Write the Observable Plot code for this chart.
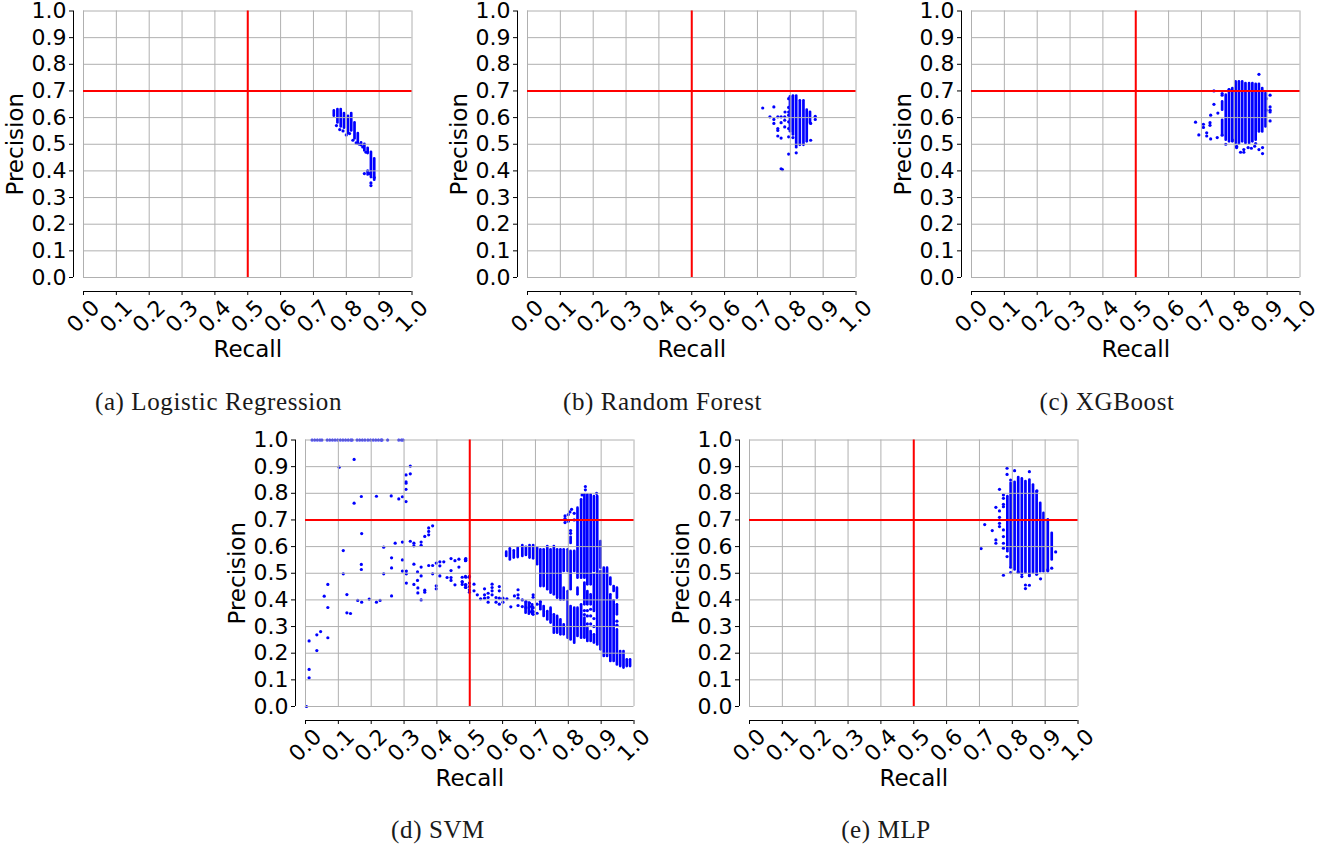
<!DOCTYPE html>
<html>
<head>
<meta charset="utf-8">
<script src="https://cdn.jsdelivr.net/npm/d3@7"></script>
<script src="https://cdn.jsdelivr.net/npm/@observablehq/plot@0.6"></script>
<style>
html,body{margin:0;padding:0;background:#fff;overflow:hidden}
#page{position:relative;width:1335px;height:847px;overflow:hidden}
.cap{position:absolute;font-family:"Liberation Serif",serif;font-size:25px;letter-spacing:.6px;color:#1a1a1a;white-space:nowrap;transform:translate(-50%,-50%)}
</style>
</head>
<body>
<div id="page"></div>
<script>
const tickValues = [0,0.1,0.2,0.3,0.4,0.5,0.6,0.7,0.8,0.9,1];
const recallThreshold = [0.5];
const precisionThreshold = [0.7];

// Dense masses are stored as the column extents: [recall, lowest precision, highest precision].
const lrRanges = [[.762,.605,.625],[.773,.58,.63],[.783,.565,.63],[.793,.56,.615],[.805,.54,.605],[.815,.55,.615],[.825,.52,.58],[.835,.50,.54],[.845,.495,.505],[.855,.475,.50],[.865,.385,.395],[.865,.465,.485],[.875,.375,.47],[.885,.365,.445]];
const lrPoints = [[.875,.345],[.875,.355],[.885,.375],[.855,.39],[.865,.4],[.77,.57],[.78,.555],[.79,.55],[.80,.535],[.81,.54],[.82,.515],[.83,.505],[.84,.50],[.85,.49],[.86,.47],[.87,.39]];

const rfRanges = [[.799,.547,.678],[.808,.535,.681],[.818,.487,.681],[.829,.496,.663],[.84,.496,.663],[.85,.509,.628],[.86,.578,.62]];
const rfPoints = [[.716,.636],[.75,.64],[.738,.603],[.75,.593],[.75,.578],[.762,.603],[.772,.603],[.783,.603],[.772,.581],[.783,.59],[.783,.565],[.795,.671],[.795,.638],[.795,.621],[.795,.609],[.795,.584],[.795,.559],[.784,.621],[.762,.559],[.762,.552],[.762,.531],[.772,.523],[.795,.528],[.808,.525],[.795,.463],[.818,.468],[.772,.408],[.776,.405],[.862,.515],[.876,.605],[.876,.593],[.862,.578]];

const xgbRanges = [[.763,.628,.659],[.763,.534,.59],[.774,.515,.684],[.784,.509,.703],[.794,.509,.709],[.804,.503,.734],[.814,.5,.734],[.824,.509,.734],[.834,.503,.728],[.845,.503,.728],[.855,.509,.728],[.865,.515,.725],[.875,.546,.725],[.885,.546,.709],[.895,.565,.69]];
const xgbPoints = [[.875,.7625],[.738,.70],[.738,.65],[.75,.617],[.728,.609],[.682,.583],[.706,.575],[.706,.563],[.726,.581],[.726,.571],[.692,.535],[.716,.543],[.716,.531],[.728,.52],[.748,.525],[.763,.534],[.774,.5],[.797,.515],[.807,.4925],[.807,.4875],[.819,.47],[.829,.48],[.829,.47],[.842,.4875],[.852,.485],[.862,.4925],[.875,.48],[.886,.4875],[.886,.465],[.865,.5025],[.909,.684],[.909,.64],[.909,.628],[.909,.621],[.909,.5875],[.898,.671],[.898,.628],[.763,.69],[.763,.684],[.784,.705]];

const mlpRanges = [[.785,.581,.7875],[.795,.525,.8375],[.807,.5125,.841],[.818,.5,.859],[.829,.494,.854],[.84,.5,.844],[.852,.494,.85],[.863,.5,.831],[.874,.5,.806],[.885,.506,.7625],[.895,.506,.725],[.908,.506,.7],[.92,.55,.65]];
const mlpPoints = [[.784,.894],[.784,.871],[.807,.885],[.852,.881],[.795,.85],[.761,.815],[.773,.794],[.773,.781],[.773,.759],[.773,.75],[.75,.7475],[.761,.734],[.761,.71],[.761,.6875],[.761,.675],[.716,.6825],[.739,.66],[.773,.6625],[.773,.6375],[.773,.6125],[.773,.594],[.75,.625],[.75,.6125],[.705,.5925],[.784,.5625],[.932,.58],[.92,.519],[.908,.5125],[.795,.5225],[.795,.5025],[.773,.4925],[.818,.504],[.829,.4875],[.852,.491],[.874,.496],[.886,.479],[.84,.456],[.852,.455],[.84,.4425],[.875,.809]];

const svmRanges = [
 [.611,.563,.579],[.622,.55,.592],[.634,.557,.584],[.646,.559,.594],[.66,.563,.604],[.671,.567,.597],[.682,.557,.604],[.693,.554,.604],
 [.705,.532,.594],[.715,.45,.588],[.725,.45,.588],[.736,.438,.6],[.746,.425,.588],[.756,.419,.6],[.766,.4065,.588],[.776,.40,.588],
 [.786,.5066,.588],[.786,.40,.444],[.798,.5066,.588],[.798,.2565,.431],[.807,.438,.582],[.807,.25,.375],[.807,.612,.635],[.818,.5066,.582],[.818,.2375,.369],
 [.828,.4815,.744],[.828,.419,.444],[.828,.263,.369],[.839,.4815,.7755],[.839,.2565,.3815],[.849,.4815,.794],[.849,.3815,.463],[.849,.2565,.3315],
 [.858,.4565,.794],[.858,.3815,.4315],[.858,.244,.294],[.868,.4565,.794],[.868,.3815,.419],[.868,.244,.281],[.878,.5066,.788],[.878,.3565,.494],[.878,.238,.269],[.888,.231,.788],[.898,.519,.619],[.898,.2126,.5066],
 [.908,.1876,.519],[.918,.1876,.519],[.928,.4565,.4815],[.928,.169,.419],[.938,.4315,.45],[.938,.169,.3965],[.948,.4065,.444],[.948,.344,.3815],[.948,.156,.2875],[.958,.15,.206],[.968,.144,.206],[.978,.15,.175],[.988,.15,.175],
 [.67,.35,.388],[.68,.3465,.388],[.69,.3465,.381],[.715,.363,.388],[.725,.338,.375],[.736,.325,.356],[.746,.313,.369],[.756,.275,.344],[.766,.275,.338],[.776,.269,.325],[.786,.269,.306]
];
const svmPoints = [
 [.849,.36],[.849,.345],[.858,.36],[.858,.34],[.858,.31],[.868,.365],[.868,.34],[.868,.31],[.878,.33],[.878,.30],[.948,.32],[.948,.305],
 [.852,.8255],[.852,.813],[.842,.794],[.886,.80],[.02,1],[.028,1],[.036,1],[.044,1],[.05,1],[.066,1],[.074,1],[.082,1],[.09,1],[.098,1],[.106,1],[.114,1],[.122,1],[.13,1],[.138,1],[.142,1],[.157,1],[.165,1],[.173,1],[.181,1],[.19,1],[.198,1],[.206,1],[.214,1],[.222,1],[.23,1],[.233,1],[.25,1],[.284,1],[.292,1],[.297,1],
 [.148,.927],[.1025,.898],[.319,.902],[.306,.869],[.319,.873],[.306,.843],[.306,.838],[.306,.815],[.17,.788],[.216,.789],[.261,.79],[.284,.779],[.295,.787],[.306,.769],[.148,.763],
 [.387,.678],[.375,.670],[.375,.657],[.375,.644],[.363,.638],[.171,.649],[.319,.62],[.273,.613],[.295,.617],[.33,.613],[.33,.603],[.352,.617],[.352,.605],[.238,.598],[.115,.585],
 [.262,.558],[.295,.55],[.17,.533],[.17,.514],[.262,.52],[.33,.534],[.352,.523],[.375,.529],[.387,.529],[.398,.538],[.409,.543],[.421,.543],[.443,.555],[.455,.547],[.467,.553],[.488,.555],[.488,.548],[.409,.528],[.467,.523],[.443,.51],[.295,.508],[.307,.508],[.307,.498],[.341,.505],[.352,.49],[.341,.473],[.33,.458],[.342,.445],[.342,.426],[.363,.4365],[.363,.429],[.352,.4],[.307,.463],[.238,.498],[.115,.498],[.387,.498],[.409,.49],[.431,.484],[.443,.484],[.443,.473],[.455,.4565],[.398,.453],[.398,.4415],[.477,.485],[.477,.469],[.477,.458],[.488,.485],[.488,.4565],[.488,.4465],[.498,.485],[.262,.415],
 [.068,.458],[.057,.414],[.068,.3715],[.126,.42],[.159,.398],[.171,.3915],[.194,.403],[.216,.3915],[.227,.398],[.126,.3515],[.137,.349],[.011,.246],[.0345,.269],[.046,.281],[.068,.258],[.0345,.21],[.011,.139],[.011,.1075],[.003,0],
 [.487,.553],[.487,.547],[.487,.488],[.499,.488],[.477,.467],[.487,.457],[.487,.447],[.499,.463],[.499,.45],[.499,.438],[.499,.429],[.513,.459],[.513,.434],[.523,.419],[.533,.404],[.545,.4415],[.545,.419],[.545,.4065],[.556,.425],[.556,.409],[.556,.3915],[.568,.459],[.568,.4465],[.568,.434],[.568,.419],[.58,.409],[.58,.3915],[.59,.45],[.59,.434],[.59,.4065],[.59,.384],[.601,.4065],[.601,.3915],[.613,.404],[.625,.374],[.636,.415],[.647,.438],[.647,.419],[.647,.4065],[.647,.379],[.66,.4],[.66,.375],[.671,.394],[.671,.371],[.682,.388],[.682,.375],[.682,.356],[.693,.419],[.693,.41],[.693,.371],[.693,.356],[.693,.346],[.705,.384],[.705,.35],[.715,.394],
 [.79,.69],[.79,.7],[.79,.715],[.80,.695],[.80,.72],[.79,.705],[.805,.73],[.81,.74],[.818,.725],[.818,.70],[.807,.66],[.807,.65]
];

const panels = [
  {left:0,   top:0,     ranges:lrRanges,  points:lrPoints},
  {left:444, top:0,     ranges:rfRanges,  points:rfPoints},
  {left:888, top:0,     ranges:xgbRanges, points:xgbPoints},
  {left:222, top:428.5, ranges:svmRanges, points:svmPoints},
  {left:666, top:428.5, ranges:mlpRanges, points:mlpPoints}
];
const captions = [
  {text:"(a) Logistic Regression", x:218.5, y:402},
  {text:"(b) Random Forest",       x:662.5, y:402},
  {text:"(c) XGBoost",             x:1107,  y:402},
  {text:"(d) SVM",                 x:438,   y:830},
  {text:"(e) MLP",                 x:886,   y:830}
];

const page = document.getElementById("page");
const fmt = d3.format(".1f");
for (const p of panels) {
  const chart = Plot.plot({
    width:440, height:365,
    marginLeft:73, marginRight:28.5, marginTop:10.5, marginBottom:74,
    style:{position:"absolute", left:p.left+"px", top:p.top+"px", background:"transparent", overflow:"visible", maxWidth:"none", fontFamily:"'DejaVu Sans',sans-serif", color:"#000"},
    x:{domain:[0,1], insetLeft:10},
    y:{domain:[0,1], insetBottom:14},
    marks:[
      Plot.ruleX(p.ranges,{x:d=>d[0], y1:d=>d[1], y2:d=>d[2], stroke:"#0000ff", strokeWidth:2.7, strokeLinecap:"round"}),
      Plot.dot(p.points,{x:d=>d[0], y:d=>d[1], r:1.6, fill:"#0000ff"}),
      Plot.ruleX(tickValues,{y1:0, y2:1, stroke:"#b0b0b0", strokeWidth:1}),
      Plot.ruleY(tickValues,{x1:0, x2:1, stroke:"#b0b0b0", strokeWidth:1}),
      Plot.ruleX(recallThreshold,{y1:0, y2:1, stroke:"#ff0000", strokeWidth:2}),
      Plot.ruleY(precisionThreshold,{x1:0, x2:1, stroke:"#ff0000", strokeWidth:2}),
      Plot.ruleY([0],{x1:0, x2:1, dy:14, stroke:"#000", strokeWidth:1}),
      Plot.ruleX([0],{y1:0, y2:1, dx:-10, stroke:"#000", strokeWidth:1}),
      Plot.axisY({ticks:tickValues, tickFormat:fmt, tickSize:4, tickPadding:3, fontSize:22, label:null, stroke:"#000", color:"#000"}),
      Plot.axisX({ticks:tickValues, tickFormat:fmt, tickSize:4, tickPadding:21, tickRotate:-45, textAnchor:"middle", lineAnchor:"middle", fontSize:22, label:null, stroke:"#000", color:"#000"}),
      Plot.text(["Precision"],{frameAnchor:"left", rotate:-90, dx:-58, dy:-7, fontSize:23, fill:"#000", textAnchor:"middle", lineAnchor:"middle"}),
      Plot.text(["Recall"],{frameAnchor:"bottom", dx:5, dy:58, fontSize:23, fill:"#000", textAnchor:"middle", lineAnchor:"middle"})
    ]
  });
  page.appendChild(chart);
}
for (const c of captions) {
  const el = document.createElement("div");
  el.className = "cap";
  el.textContent = c.text;
  el.style.left = c.x+"px";
  el.style.top = c.y+"px";
  page.appendChild(el);
}
</script>
</body>
</html>
